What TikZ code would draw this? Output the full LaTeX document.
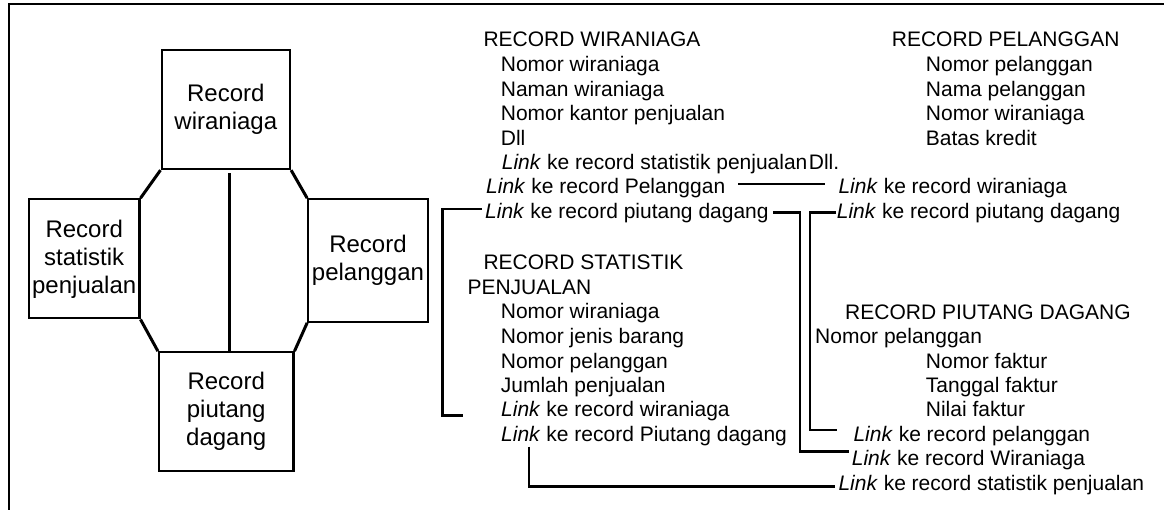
\documentclass[tikz,border=0pt]{standalone}
\usepackage{fontspec}
\setmainfont{Liberation Sans}
\begin{document}
\begin{tikzpicture}[x=1pt,y=-1pt,
  recbox/.style={draw, line width=2.3pt, align=center, inner sep=0pt,
    font=\fontsize{24}{28}\selectfont},
  txt/.style={anchor=base west, inner sep=0pt, font=\fontsize{21}{25}\selectfont},
  conn/.style={line width=2.7pt, line join=miter},
  frame/.style={line width=2.5pt}]
\useasboundingbox (0,0) rectangle (1164,510);
% frame
\coordinate (f1) at (9,512);
\coordinate (f2) at (9,4);
\coordinate (f3) at (1166,4);
\draw[frame] (f1) -- (f2) -- (f3);
% left diagram
\node[recbox, minimum width=128.3pt, minimum height=119pt] (bw) at (225.8,109.5) {Record\\wiraniaga};
\node[recbox, minimum width=110.3pt, minimum height=119pt] (bs) at (84.2,258.8) {Record\\statistik\\penjualan};
\node[recbox, minimum width=119.4pt, minimum height=122.4pt] (bp) at (368,260.5) {Record\\pelanggan};
\node[recbox, minimum width=134.3pt, minimum height=118.4pt] (bd) at (226.2,411.5) {Record\\piutang\\dagang};
\draw[conn, line width=3pt] (bw.south west) -- (bs.north east);
\draw[conn, line width=3pt] (bw.south east) -- (bp.north west);
\draw[conn, line width=3pt] (bs.south east) -- (bd.north west);
\draw[conn, line width=3pt] (bp.south west) -- (bd.north east);
\coordinate (vtop) at (229.3,173.3);
\draw[conn, line width=3pt] (vtop) -- (vtop |- bd.north);
% record wiraniaga
\node[txt] (rw0) at (483.3,46.7) {RECORD WIRANIAGA};
\node[txt] (rw1) at (500.7,71.7) {Nomor wiraniaga};
\node[txt] (rw2) at (500.7,96.7) {Naman wiraniaga};
\node[txt] (rw3) at (500.7,121) {Nomor kantor penjualan};
\node[txt] (rw4) at (500.7,145.3) {Dll};
\node[txt] (rw5) at (501.7,169.5) {\textit{Link} ke record statistik penjualan\hspace{1.5pt}Dll.};
\node[txt] (rw6) at (486,194) {\textit{Link} ke record Pelanggan};
\node[txt] (rw7) at (485,219) {\textit{Link} ke record piutang dagang};
% record pelanggan
\node[txt] (rp0) at (891.7,46.7) {RECORD PELANGGAN};
\node[txt] (rp1) at (925.7,71.7) {Nomor pelanggan};
\node[txt] (rp2) at (925.7,96.7) {Nama pelanggan};
\node[txt] (rp3) at (925.7,121) {Nomor wiraniaga};
\node[txt] (rp4) at (925.7,145.3) {Batas kredit};
\node[txt] (rp5) at (838.3,194) {\textit{Link} ke record wiraniaga};
\node[txt] (rp6) at (836.7,219) {\textit{Link} ke record piutang dagang};
% record statistik penjualan
\node[txt] (rs0) at (483.3,270) {RECORD STATISTIK};
\node[txt] (rs1) at (467.3,295) {PENJUALAN};
\node[txt] (rs2) at (500.7,319) {Nomor wiraniaga};
\node[txt] (rs3) at (500.7,343.3) {Nomor jenis barang};
\node[txt] (rs4) at (500.7,368.3) {Nomor pelanggan};
\node[txt] (rs5) at (500.7,392.7) {Jumlah penjualan};
\node[txt] (rs6) at (501,416.7) {\textit{Link} ke record wiraniaga};
\node[txt] (rs7) at (501,441.7) {\textit{Link} ke record Piutang dagang};
% record piutang dagang
\node[txt] (rd0) at (845,320) {RECORD PIUTANG DAGANG};
\node[txt] (rd1) at (815,343.3) {Nomor pelanggan};
\node[txt] (rd2) at (925.7,368.3) {Nomor faktur};
\node[txt] (rd3) at (925.7,392.7) {Tanggal faktur};
\node[txt] (rd4) at (925.7,416.7) {Nilai faktur};
\node[txt] (rd5) at (853.3,441.7) {\textit{Link} ke record pelanggan};
\node[txt] (rd6) at (851.7,465.7) {\textit{Link} ke record Wiraniaga};
\node[txt] (rd7) at (838.3,490) {\textit{Link} ke record statistik penjualan};
% connectors
\coordinate (c1a) at (738.3,184);
\coordinate (c1b) at (825,184);
\draw[conn] (c1a) -- (c1b);
\coordinate (c2a) at (481.7,209);
\coordinate (c2b) at (463.3,415.7);
\draw[conn] (c2a) -- (442.3,209) -- (442.3,415.7) -- (c2b);
\coordinate (c3a) at (773.3,212.7);
\coordinate (c3b) at (849.3,451.7);
\draw[conn] (c3a) -- (800,212.7) -- (800,451.7) -- (c3b);
\coordinate (c4a) at (836,212.7);
\coordinate (c4b) at (837.3,430);
\draw[conn] (c4a) -- (810,212.7) -- (810,430) -- (c4b);
\coordinate (c5a) at (529,446.7);
\coordinate (c5b) at (835,486.7);
\draw[conn] (c5a) -- (529,486.7) -- (c5b);
\end{tikzpicture}
\end{document}
